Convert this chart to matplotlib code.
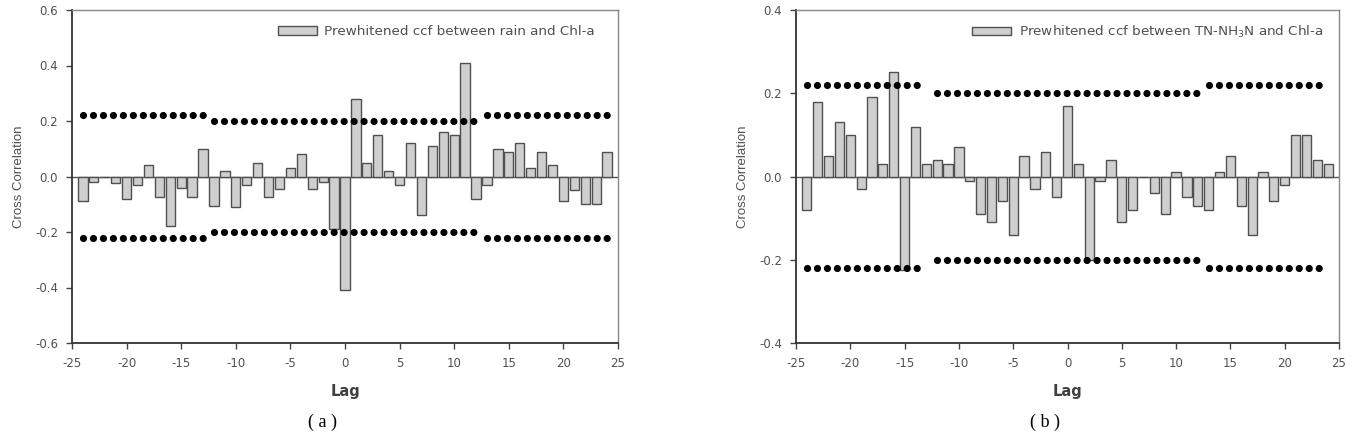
import numpy as np
import matplotlib
matplotlib.use("Agg")
import matplotlib.pyplot as plt

plt.rcParams['font.family'] = ['DejaVu Sans']
plt.rcParams['axes.unicode_minus'] = False

# lags -24 .. 24
lags = list(range(-24, 25))

# (a) prewhitened ccf between rain and Chl-a
ccf_rain = [-0.09, -0.02, 0.0, -0.025, -0.08, -0.03, 0.04, -0.075, -0.18, -0.04,
            -0.075, 0.10, -0.105, 0.02, -0.11, -0.03, 0.05, -0.075, -0.045, 0.03,
            0.08, -0.045, -0.02, -0.19, -0.41,
            0.28, 0.05, 0.15, 0.02, -0.03, 0.12, -0.14, 0.11, 0.16, 0.15,
            0.41, -0.08, -0.03, 0.10, 0.09, 0.12, 0.03, 0.09, 0.04, -0.09,
            -0.05, -0.10, -0.10, 0.09]

# (b) prewhitened ccf between TN-NH3N and Chl-a
ccf_tn = [-0.08, 0.18, 0.05, 0.13, 0.10, -0.03, 0.19, 0.03, 0.25, -0.225,
          0.12, 0.03, 0.04, 0.03, 0.07, -0.01, -0.09, -0.11, -0.06, -0.14,
          0.05, -0.03, 0.06, -0.05, 0.17,
          0.03, -0.20, -0.01, 0.04, -0.11, -0.08, 0.0, -0.04, -0.09, 0.01,
          -0.05, -0.07, -0.08, 0.01, 0.05, -0.07, -0.14, 0.01, -0.06, -0.02,
          0.10, 0.10, 0.04, 0.03]

# confidence limits: (first lag, last lag, limit)
limits = [(-24, -13, 0.22), (-12, 12, 0.20), (13, 24, 0.22)]

legend_a = "Prewhitened ccf between rain and Chl-a"
legend_b = "Prewhitened ccf between TN-NH$_3$N and Chl-a"

fig = plt.figure(figsize=(13.55, 4.37), dpi=100)
W, H = 1355, 437


def panel(x0, x1, y0, y1, vals, ylim, yticks, label, leg_x, caption, cap_x):
    ax = fig.add_axes([x0 / W, 1 - y1 / H, (x1 - x0) / W, (y1 - y0) / H])
    ax.axhline(0, color='#555555', lw=1.0, zorder=1)
    ax.bar(lags, vals, width=0.85, color='#cfcfcf', edgecolor='#505050',
           linewidth=1.0, zorder=2, label=label)
    for a, b, lim in limits:
        for s in (1, -1):
            ax.plot([a, b], [s * lim, s * lim], color='black', lw=5.2,
                    linestyle=(0, (0.001, 1.38)), dash_capstyle='round', zorder=3)
    ax.set_xlim(-25, 25)
    ax.set_ylim(*ylim)
    ax.set_xticks(range(-25, 26, 5))
    ax.set_yticks(yticks)
    ax.set_yticklabels([f"{t:.1f}" for t in yticks])
    ax.tick_params(direction='out', length=4, width=1, color='#444444',
                   labelsize=8.5, labelcolor='#505050')
    ax.tick_params(axis='y', pad=6)
    ax.tick_params(axis='x', pad=6)
    for side in ('left', 'bottom'):
        ax.spines[side].set_color('#333333')
        ax.spines[side].set_linewidth(1.3)
    for side in ('top', 'right'):
        ax.spines[side].set_color('#888888')
        ax.spines[side].set_linewidth(1.0)
    ax.set_ylabel("Cross Correlation", fontsize=9.5, color='#505050', labelpad=7,
                  family=['Liberation Sans', 'DejaVu Sans'])
    ax.set_xlabel("Lag", fontsize=10.5, color='#404040', fontweight='bold', labelpad=10)
    ax.legend(loc='center right', bbox_to_anchor=(leg_x, 0.934), frameon=False,
              fontsize=9.7, handlelength=2.9, handleheight=0.6, handletextpad=0.55,
              borderpad=0, borderaxespad=0, labelcolor='#505050')
    fig.text(cap_x / W, 1 - 422 / H, caption, ha='center', va='center',
             fontsize=13, family=['Liberation Serif', 'DejaVu Serif'])
    return ax


panel(72, 618, 10, 343, ccf_rain, (-0.6, 0.6), np.round(np.arange(-0.6, 0.61, 0.2), 1),
      legend_a, (595 - 72) / 546, "( a )", 323)
panel(796, 1339, 10, 343, ccf_tn, (-0.4, 0.4), np.round(np.arange(-0.4, 0.41, 0.2), 1),
      legend_b, (1323 - 796) / 543, "( b )", 1045)

fig.savefig("out.png", dpi=100)
